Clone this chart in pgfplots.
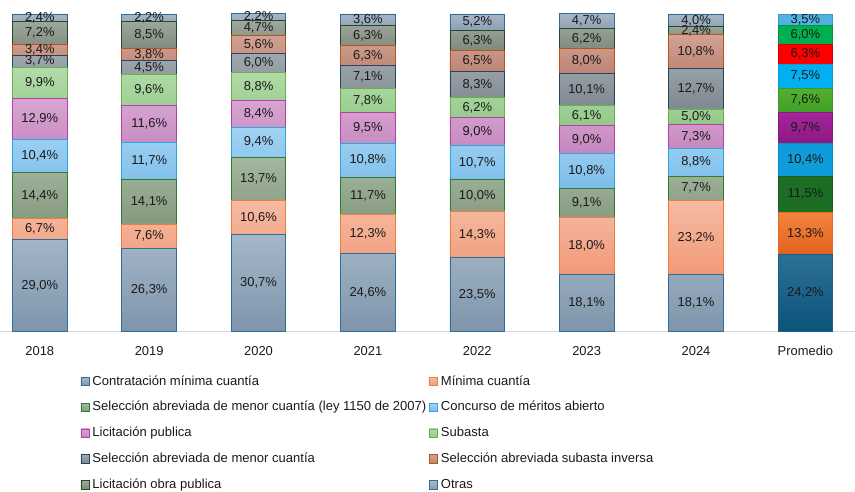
\documentclass[border=0pt]{standalone}
\usepackage{fontspec}
\setmainfont{Liberation Sans}
\usepackage{pgfplots}
\usepackage{pgfplotstable}
\pgfplotsset{compat=1.18}

\pgfplotstableread{
x  a     b     c     d     e     f    g     h     i    j
0  29.0  6.7   14.4  10.4  12.9  9.9  3.7   3.4   7.2  2.4
1  26.3  7.6   14.1  11.7  11.6  9.6  4.5   3.8   8.5  2.2
2  30.7  10.6  13.7  9.4   8.4   8.8  6.0   5.6   4.7  2.2
3  24.6  12.3  11.7  10.8  9.5   7.8  7.1   6.3   6.3  3.6
4  23.5  14.3  10.0  10.7  9.0   6.2  8.3   6.5   6.3  5.2
5  18.1  18.0  9.1   10.8  9.0   6.1  10.1  8.0   6.2  4.7
6  18.1  23.2  7.7   8.8   7.3   5.0  12.7  10.8  2.4  4.0
}\years
\pgfplotstableread{
x  a     b     c     d     e     f    g    h    i    j
7  24.2  13.3  11.5  10.4  9.7   7.6  7.5  6.3  6.0  3.5
}\prom

\definecolor{aT}{HTML}{A5B7C8}\definecolor{aB}{HTML}{7E95AB}\definecolor{aD}{HTML}{2F6E98}
\definecolor{bT}{HTML}{F6BBA3}\definecolor{bB}{HTML}{F09A78}\definecolor{bD}{HTML}{EE7C3C}
\definecolor{cT}{HTML}{A4B89F}\definecolor{cB}{HTML}{85997F}\definecolor{cD}{HTML}{2E7D32}
\definecolor{dT}{HTML}{A2D3F3}\definecolor{dB}{HTML}{7DBDEA}\definecolor{dD}{HTML}{2BA6DE}
\definecolor{eT}{HTML}{D8A6D2}\definecolor{eB}{HTML}{C586BE}\definecolor{eD}{HTML}{B43FA8}
\definecolor{fT}{HTML}{B3DCA9}\definecolor{fB}{HTML}{94C98A}\definecolor{fD}{HTML}{68B04A}
\definecolor{gT}{HTML}{A0A8AF}\definecolor{gB}{HTML}{7F8891}\definecolor{gD}{HTML}{27465C}
\definecolor{hT}{HTML}{D1A294}\definecolor{hB}{HTML}{BD8473}\definecolor{hD}{HTML}{B5541F}
\definecolor{iT}{HTML}{9DA79B}\definecolor{iB}{HTML}{7F8A7D}\definecolor{iD}{HTML}{27472A}
\definecolor{jT}{HTML}{A6B6C5}\definecolor{jB}{HTML}{8BA0B4}\definecolor{jD}{HTML}{2F6E98}

\definecolor{paT}{HTML}{2C7096}\definecolor{paB}{HTML}{0C5379}\definecolor{paD}{HTML}{1C5E86}
\definecolor{pbT}{HTML}{F1843F}\definecolor{pbB}{HTML}{E3611C}\definecolor{pbD}{HTML}{E86A28}
\definecolor{pc}{HTML}{1B6E24}\definecolor{pcD}{HTML}{1A5E20}
\definecolor{pd}{HTML}{0E9DDA}\definecolor{pdD}{HTML}{0A8CC4}
\definecolor{peT}{HTML}{A4269B}\definecolor{peB}{HTML}{8C1882}\definecolor{peD}{HTML}{8A1A80}
\definecolor{pfT}{HTML}{54AF32}\definecolor{pfB}{HTML}{41A027}\definecolor{pfD}{HTML}{3E9828}
\definecolor{pg}{HTML}{00B0F0}\definecolor{pgD}{HTML}{0C9CD6}
\definecolor{ph}{HTML}{FF0000}\definecolor{phD}{HTML}{D00000}
\definecolor{pi}{HTML}{00B050}\definecolor{piD}{HTML}{00963F}
\definecolor{pj}{HTML}{52B1E3}\definecolor{pjD}{HTML}{3598CC}
\definecolor{txt}{HTML}{1A1A1A}
\definecolor{axl}{HTML}{D9D9D9}

\pgfplotsset{
  base/.style={
    scale only axis, width=855bp, height=318.64bp,
    xmin=-0.36, xmax=7.45, ymin=0, ymax=100.2,
    clip=false,
    ybar stacked, bar width=0.5,
    point meta=explicit,
    nodes near coords={\pgfmathprintnumber[fixed,fixed zerofill,precision=1,use comma,assume math mode=true]{\pgfplotspointmeta}\%},
    every node near coord/.append style={anchor=center, font=\fontsize{13}{13}\selectfont, text=txt, inner sep=0pt},
  },
  bs/.style={line width=0.8bp},
}

\begin{document}
\begin{tikzpicture}
\begin{axis}[base,
  axis y line=none,
  axis x line*=bottom,
  x axis line style={draw=axl, line width=0.8bp, -},
  xtick={0,1,2,3,4,5,6,7},
  xticklabels={2018,2019,2020,2021,2022,2023,2024,Promedio},
  major tick length=0pt,
  xticklabel style={font=\fontsize{13}{13}\selectfont, text=txt, yshift=-11bp},
  legend columns=2,
  legend cell align=left,
  legend style={at={(0.0936,-0.1335)}, anchor=north west, draw=none, inner sep=0pt,
    font=\fontsize{13.1}{13}\selectfont, text=txt, row sep=11.3bp, column sep=1.5bp,
    nodes={inner sep=1.2bp, text height=9.5bp, text depth=2.6bp}},
  legend image code/.code={\draw[#1, line width=0.8bp] (0bp,-4.2bp) rectangle (8.4bp,4.2bp);},
]
\addplot[bs, top color=aT, bottom color=aB, draw=aD] table[x=x,y=a,meta=a]{\years};
\addlegendentry{Contratación mínima cuantía}
\addplot[bs, top color=bT, bottom color=bB, draw=bD] table[x=x,y=b,meta=b]{\years};
\addlegendentry{Mínima cuantía}
\addplot[bs, top color=cT, bottom color=cB, draw=cD] table[x=x,y=c,meta=c]{\years};
\addlegendentry{Selección abreviada de menor cuantía (ley 1150 de 2007)}
\addplot[bs, top color=dT, bottom color=dB, draw=dD] table[x=x,y=d,meta=d]{\years};
\addlegendentry{Concurso de méritos abierto}
\addplot[bs, top color=eT, bottom color=eB, draw=eD] table[x=x,y=e,meta=e]{\years};
\addlegendentry{Licitación publica}
\addplot[bs, top color=fT, bottom color=fB, draw=fD] table[x=x,y=f,meta=f]{\years};
\addlegendentry{Subasta}
\addplot[bs, top color=gT, bottom color=gB, draw=gD] table[x=x,y=g,meta=g]{\years};
\addlegendentry{Selección abreviada de menor cuantía}
\addplot[bs, top color=hT, bottom color=hB, draw=hD] table[x=x,y=h,meta=h]{\years};
\addlegendentry{Selección abreviada subasta inversa}
\addplot[bs, top color=iT, bottom color=iB, draw=iD] table[x=x,y=i,meta=i]{\years};
\addlegendentry{Licitación obra publica}
\addplot[bs, top color=jT, bottom color=jB, draw=jD] table[x=x,y=j,meta=j]{\years};
\addlegendentry{Otras}
\end{axis}
\begin{axis}[base, hide axis]
\addplot[bs, top color=paT, bottom color=paB, draw=paD] table[x=x,y=a,meta=a]{\prom};
\addplot[bs, top color=pbT, bottom color=pbB, draw=pbD] table[x=x,y=b,meta=b]{\prom};
\addplot[bs, fill=pc, draw=pcD] table[x=x,y=c,meta=c]{\prom};
\addplot[bs, fill=pd, draw=pdD] table[x=x,y=d,meta=d]{\prom};
\addplot[bs, top color=peT, bottom color=peB, draw=peD] table[x=x,y=e,meta=e]{\prom};
\addplot[bs, top color=pfT, bottom color=pfB, draw=pfD] table[x=x,y=f,meta=f]{\prom};
\addplot[bs, fill=pg, draw=pgD] table[x=x,y=g,meta=g]{\prom};
\addplot[bs, fill=ph, draw=phD] table[x=x,y=h,meta=h]{\prom};
\addplot[bs, fill=pi, draw=piD] table[x=x,y=i,meta=i]{\prom};
\addplot[bs, fill=pj, draw=pjD] table[x=x,y=j,meta=j]{\prom};
\end{axis}
\path (0,0) rectangle (855bp,332bp);
\end{tikzpicture}
\end{document}
